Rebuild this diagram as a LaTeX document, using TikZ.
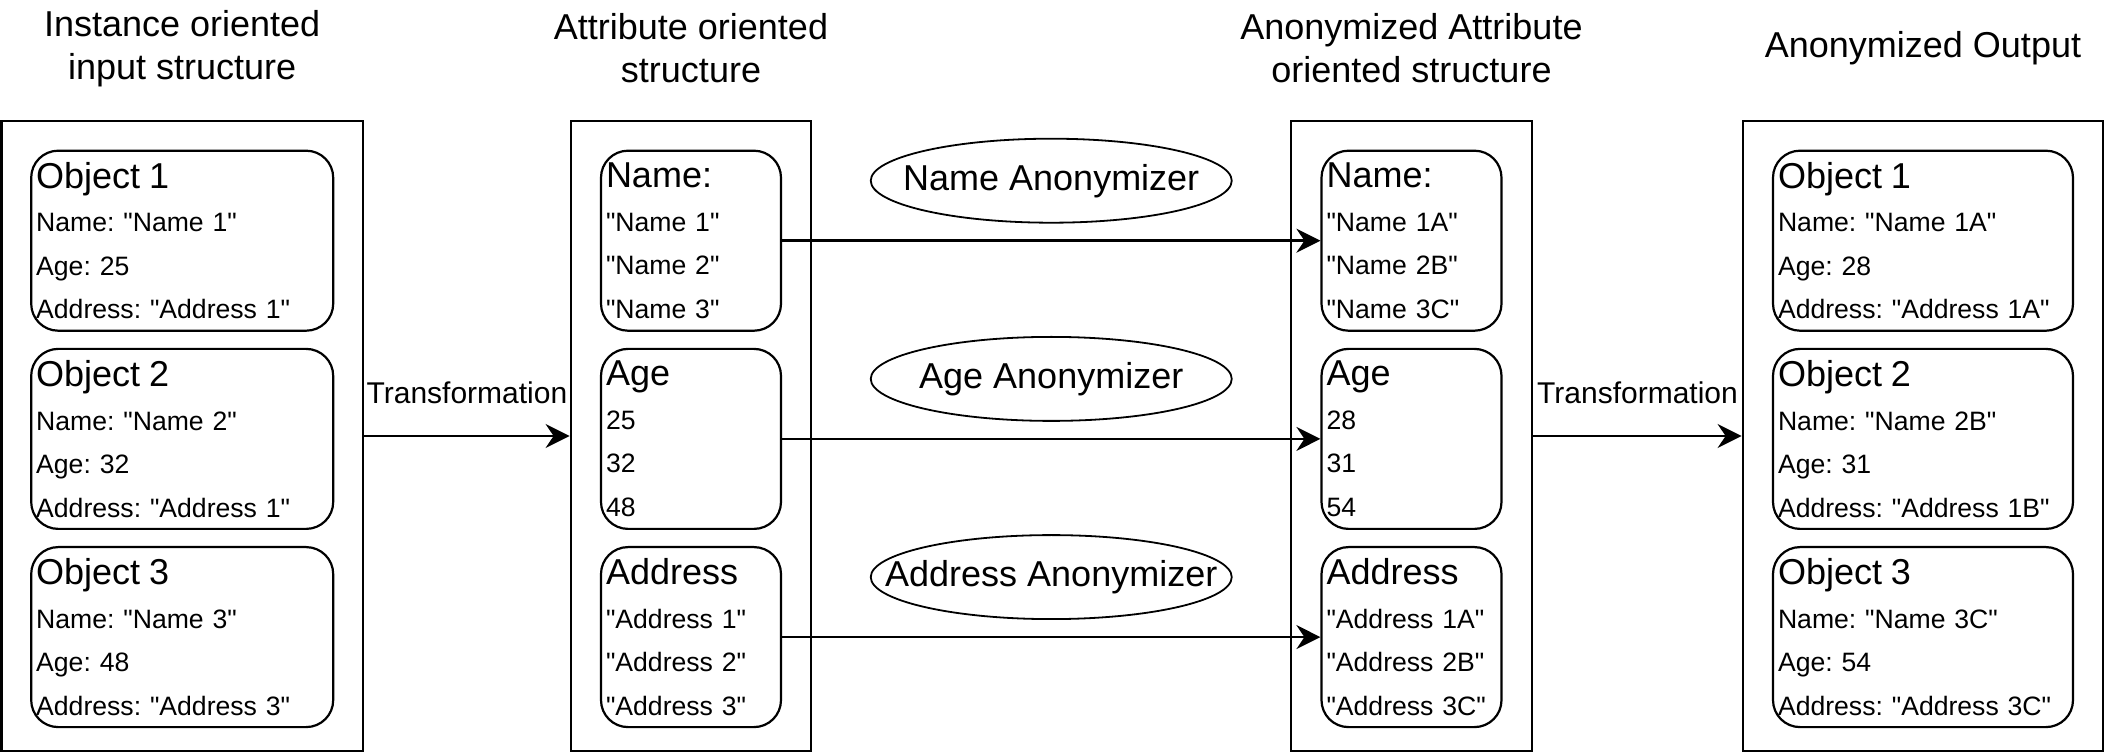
\documentclass[tikz,border=0pt]{standalone}
\usepackage{fontspec}
\setmainfont{Liberation Sans}[Ligatures=TeXOff]
\usetikzlibrary{positioning,shapes.geometric,arrows.meta}
\frenchspacing
\newcommand{\bigtxt}{\fontsize{18}{21.5}\selectfont}
\newcommand{\fieldlist}[4]{{\bigtxt #1}\\#2\\#3\\#4}

\begin{document}
\begin{tikzpicture}[x=1pt,y=1pt,
    panel/.style={draw,line width=1.4pt,minimum width=#1,minimum height=315pt,inner sep=0pt},
    item/.style={draw,rounded corners=13.5pt,line width=1.1pt,text width=#1,
                 minimum height=90pt,inner xsep=2.5pt,inner ysep=0pt,align=left,
                 font=\fontsize{13.3}{21.75}\selectfont},
    coltitle/.style={align=center,font=\bigtxt},
    anon/.style={draw,ellipse,line width=0.9pt,minimum width=180.5pt,
                 minimum height=42pt,inner sep=0pt,font=\bigtxt},
    flow/.style={-{Stealth[length=12pt,width=12pt,inset=4pt]},line width=1.2pt},
    lbl/.style={inner sep=0pt,font=\fontsize{15}{17}\selectfont}]
  \useasboundingbox (0,0) rectangle (1053,-376.5);

  % the four structures
  \node[panel=180.7pt] (colI) at (91.1,-218) {};
  \node[panel=120pt]   (colA) at (345.5,-218) {};
  \node[panel=120.5pt] (colN) at (705.75,-218) {};
  \node[panel=180pt]   (colO) at (961.5,-218) {};

  \node[coltitle] (tI) at ([yshift=35.5pt]colI.north) {Instance oriented\\input structure};
  \node[coltitle] (tA) at ([yshift=35.5pt]colA.north) {Attribute oriented\\structure};
  \node[coltitle] (tN) at ([yshift=35.5pt]colN.north) {Anonymized Attribute\\oriented structure};
  \node[coltitle] (tO) at ([yshift=35.5pt]colO.north) {Anonymized Output};

  % input objects
  \node[item=146pt,below=15pt of colI.north] (in1)
    {\fieldlist{Object 1}{Name: "Name 1"}{Age: 25}{Address: "Address 1"}};
  \node[item=146pt,below=8pt of in1] (in2)
    {\fieldlist{Object 2}{Name: "Name 2"}{Age: 32}{Address: "Address 1"}};
  \node[item=146pt,below=8pt of in2] (in3)
    {\fieldlist{Object 3}{Name: "Name 3"}{Age: 48}{Address: "Address 3"}};

  % attributes
  \node[item=85pt,below=15pt of colA.north] (at1)
    {\fieldlist{Name:}{"Name 1"}{"Name 2"}{"Name 3"}};
  \node[item=85pt,below=8pt of at1] (at2)
    {\fieldlist{Age}{25}{32}{48}};
  \node[item=85pt,below=8pt of at2] (at3)
    {\fieldlist{Address}{"Address 1"}{"Address 2"}{"Address 3"}};

  % anonymized attributes
  \node[item=85pt,below=15pt of colN.north] (an1)
    {\fieldlist{Name:}{"Name 1A"}{"Name 2B"}{"Name 3C"}};
  \node[item=85pt,below=8pt of an1] (an2)
    {\fieldlist{Age}{28}{31}{54}};
  \node[item=85pt,below=8pt of an2] (an3)
    {\fieldlist{Address}{"Address 1A"}{"Address 2B"}{"Address 3C"}};

  % output objects
  \node[item=145pt,below=15pt of colO.north] (out1)
    {\fieldlist{Object 1}{Name: "Name 1A"}{Age: 28}{Address: "Address 1A"}};
  \node[item=145pt,below=8pt of out1] (out2)
    {\fieldlist{Object 2}{Name: "Name 2B"}{Age: 31}{Address: "Address 1B"}};
  \node[item=145pt,below=8pt of out2] (out3)
    {\fieldlist{Object 3}{Name: "Name 3C"}{Age: 54}{Address: "Address 3C"}};

  % connectors
  \draw[flow] (colI) -- (colA) node[lbl,midway,above=15.5pt] (tr1) {Transformation};
  \draw[flow] (colN) -- (colO) node[lbl,midway,above=15.5pt] (tr2) {Transformation};
  \draw[flow] (at1) -- (an1) node[anon,midway,yshift=30pt] (e1) {\makebox[0pt]{Name Anonymizer}};
  \draw[flow] (at2) -- (an2) node[anon,midway,yshift=30pt] (e2) {\makebox[0pt]{Age Anonymizer}};
  \draw[flow] (at3) -- (an3) node[anon,midway,yshift=30pt] (e3) {\makebox[0pt]{Address Anonymizer}};
\end{tikzpicture}
\end{document}
